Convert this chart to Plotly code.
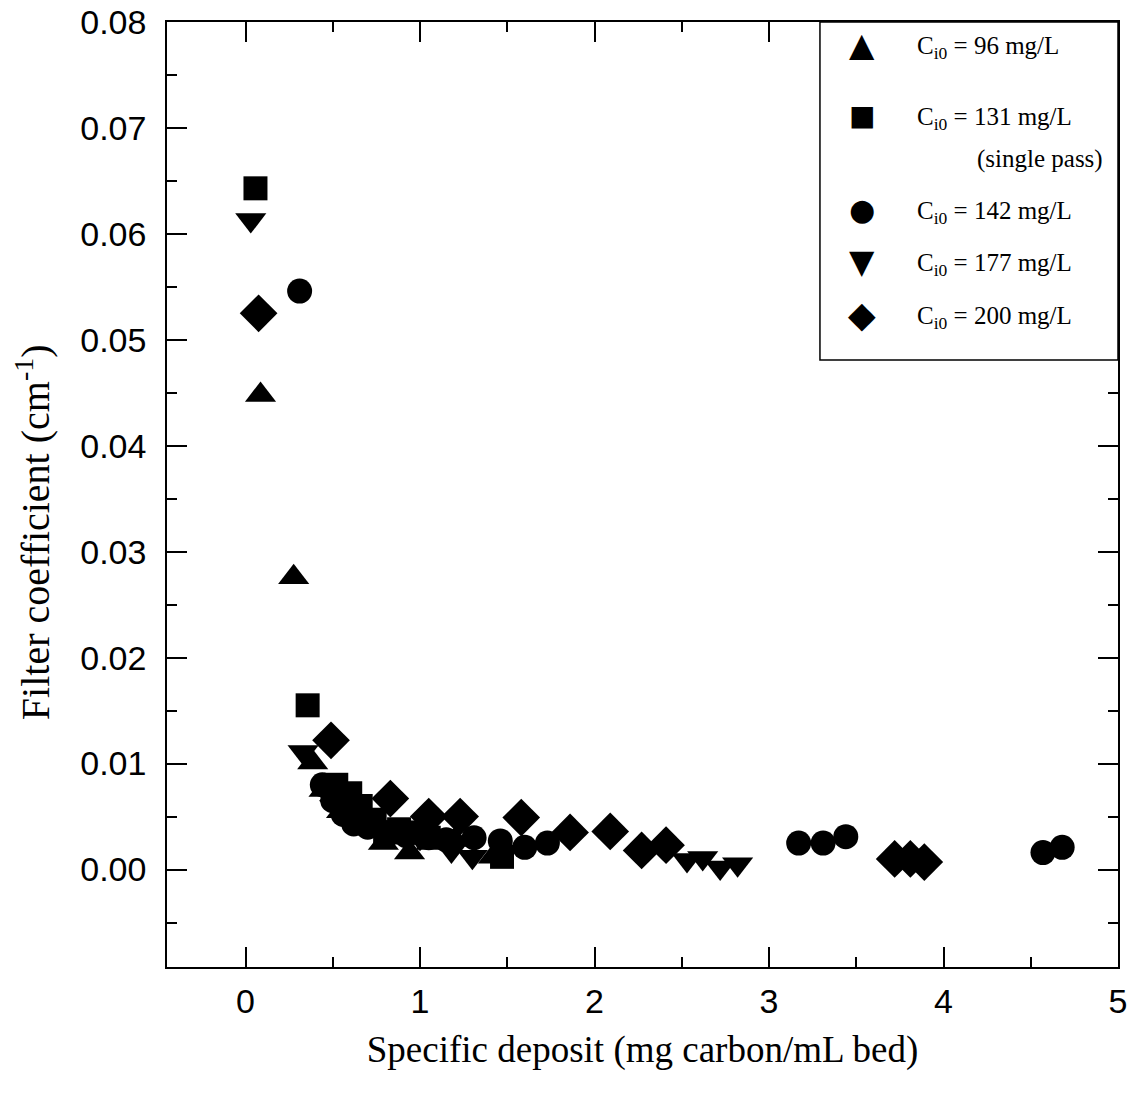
import plotly.graph_objects as go

# ---- data ----
x_96 = [0.086, 0.276, 0.385, 0.45, 0.55, 0.66, 0.79, 0.94, 1.20, 1.42]
y_96 = [0.0448, 0.0276, 0.0101, 0.0075, 0.0055, 0.0042, 0.0025, 0.0016, 0.0028, 0.0012]

x_131 = [0.057, 0.356, 0.52, 0.60, 0.66, 0.74, 0.80, 0.88, 0.97, 1.05, 1.47]
y_131 = [0.0643, 0.0155, 0.0080, 0.0072, 0.0060, 0.0047, 0.0035, 0.0038, 0.0035, 0.0030, 0.0012]

x_142 = [0.31, 0.44, 0.50, 0.56, 0.62, 0.70, 0.80, 0.92, 1.05, 1.15, 1.31, 1.46, 1.60, 1.73,
         3.17, 3.31, 3.44, 4.57, 4.68]
y_142 = [0.0546, 0.0080, 0.0065, 0.0052, 0.0043, 0.0040, 0.0035, 0.0032, 0.0030, 0.0028, 0.0030,
         0.0027, 0.0021, 0.0025, 0.0025, 0.0025, 0.0031, 0.0016, 0.0021]

x_177 = [0.03, 0.33, 0.48, 0.56, 0.68, 0.85, 1.00, 1.18, 1.30, 2.53, 2.62, 2.72, 2.82]
y_177 = [0.0613, 0.0111, 0.0070, 0.0058, 0.0045, 0.0035, 0.0030, 0.0018, 0.0012, 0.0009, 0.0011,
         0.0002, 0.0005]

x_200 = [0.075, 0.49, 0.53, 0.83, 1.05, 1.23, 1.58, 1.86, 2.09, 2.27, 2.41, 3.72, 3.81, 3.89]
y_200 = [0.0525, 0.0122, 0.0065, 0.0067, 0.0050, 0.0050, 0.0049, 0.0035, 0.0036, 0.0018, 0.0023,
         0.0010, 0.0010, 0.0007]

concentrations = ["96", "131", "142", "177", "200"]
notes = ["", "(single pass)", "", "", ""]
symbols = ["triangle-up", "square", "circle", "triangle-down", "diamond"]
glyphs = ["\u25B2", "\u25A0", "\u25CF", "\u25BC", "\u25C6"]
sizes = [27, 24, 25, 27, 29]
xs_all = [x_96, x_131, x_142, x_177, x_200]
ys_all = [y_96, y_131, y_142, y_177, y_200]

xtick_vals = [0, 1, 2, 3, 4, 5]
ytick_vals = [0.0, 0.01, 0.02, 0.03, 0.04, 0.05, 0.06, 0.07, 0.08]

NB = "\u00a0"
SERIF = "Liberation Serif, Times New Roman, serif"
SANS = "Liberation Sans, Arial, sans-serif"

fig = go.Figure()
for i in range(5):
    fig.add_trace(go.Scatter(
        x=xs_all[i], y=ys_all[i], mode="markers",
        name="C_i0 = " + concentrations[i] + " mg/L",
        marker=dict(symbol=symbols[i], size=sizes[i], color="black", line=dict(width=0)),
        showlegend=False,
    ))

axis_common = dict(
    showline=True, linecolor="black", linewidth=1.5, mirror="allticks",
    ticks="inside", ticklen=20, tickwidth=1.5, tickcolor="black",
    showgrid=False, zeroline=False, automargin=False, ticklabeloverflow="allow",
    tickfont=dict(family=SANS, size=34, color="black"),
)
minor_common = dict(ticks="inside", ticklen=10, tickwidth=1.5, tickcolor="black")

fig.update_layout(
    width=1134, height=1093,
    margin=dict(l=167, r=16, t=22, b=126),
    paper_bgcolor="white", plot_bgcolor="white",
    showlegend=False,
    xaxis=dict(
        **axis_common, range=[-0.45, 5.0], tickmode="array",
        tickvals=xtick_vals, ticktext=[str(v) for v in xtick_vals],
        minor=dict(**minor_common, tickvals=[v + 0.5 for v in xtick_vals[:-1]]),
        ticklabelstandoff=3,
        title=dict(text="Specific deposit (mg carbon/mL bed)", standoff=18,
                   font=dict(family=SERIF, size=37, color="black")),
    ),
    yaxis=dict(
        **axis_common, range=[-0.0092, 0.08], tickmode="array",
        tickvals=ytick_vals, ticktext=["%.2f" % v for v in ytick_vals],
        minor=dict(**minor_common, tickvals=[round(v - 0.005, 3) for v in ytick_vals]),
        ticklabelstandoff=12,
    ),
)

# y-axis title (placed as rotated text, slightly below the axis middle as in the reference)
fig.add_annotation(xref="paper", yref="paper", x=-0.141, y=0.46,
                   text="Filter coefficient (cm<sup>-1</sup>)", textangle=-90,
                   showarrow=False, xanchor="center", yanchor="middle",
                   font=dict(family=SERIF, size=40, color="black"))

# ---- legend box drawn as a bordered panel with text entries ----
L_x0, L_y0 = 0.6866, 0.6423
fig.add_shape(type="rect", xref="paper", yref="paper", x0=L_x0, y0=L_y0, x1=1.0, y1=1.0,
              line=dict(color="black", width=1.5), fillcolor="white", layer="above")
row_y = [0.9735, 0.8984, 0.7979, 0.7429, 0.6868]
glyph_sizes = [33, 28, 30, 33, 36]
for i in range(5):
    fig.add_annotation(xref="paper", yref="paper", x=0.731, y=row_y[i], text=glyphs[i],
                       showarrow=False, xanchor="center", yanchor="middle", yshift=3,
                       font=dict(family="DejaVu Sans", size=glyph_sizes[i], color="black"))
    label = "C<sub>i0</sub>" + NB + "=" + NB + concentrations[i] + NB + "mg/L"
    fig.add_annotation(xref="paper", yref="paper", x=0.7865, y=row_y[i], text=label,
                       showarrow=False, xanchor="left", yanchor="middle",
                       font=dict(family=SERIF, size=25, color="black"))
    if notes[i]:
        fig.add_annotation(xref="paper", yref="paper", x=0.8496, y=row_y[i] - 0.0434,
                           text=notes[i], showarrow=False, xanchor="left", yanchor="middle",
                           font=dict(family=SERIF, size=25, color="black"))

fig.write_html("out.html", config={"displayModeBar": False},
               post_script="document.body.style.margin='0';")
